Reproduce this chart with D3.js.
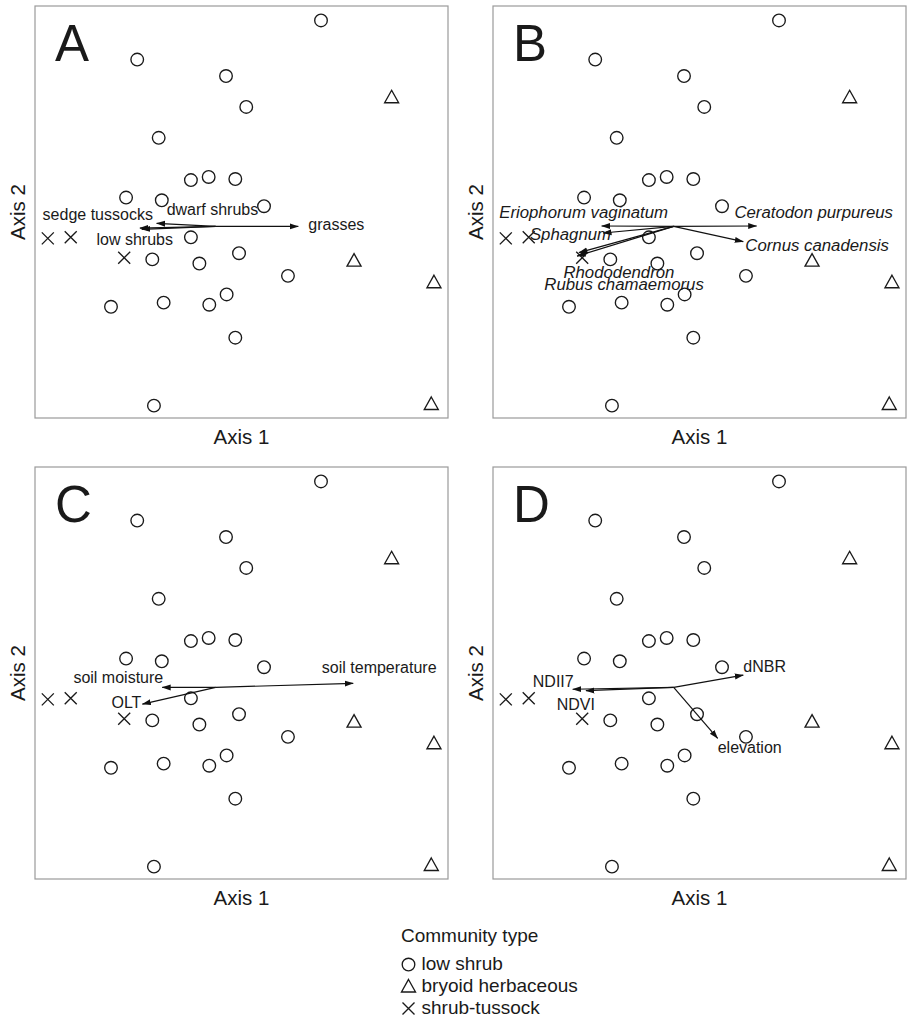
<!DOCTYPE html>
<html>
<head>
<meta charset="utf-8">
<script src="https://cdn.jsdelivr.net/npm/d3@7/dist/d3.min.js"></script>
<style>
  body { margin: 0; background: #fff; }
  svg { display: block; }
  text { font-family: "Liberation Sans", Arial, sans-serif; fill: #1a1a1a; }
  .frame { fill: none; stroke: #9a9a9a; stroke-width: 1.2; }
  .site { fill: none; stroke: #1a1a1a; stroke-width: 1.35; }
  .vec { stroke: #111; stroke-width: 1.2; }
</style>
</head>
<body>
<div id="vizContainer"></div>
<script>
// site scores (same ordination in all four panels)
var siteX = [0.51, -0.38, 0.05, 0.148, -0.276, -0.12, -0.034, 0.095, -0.434, -0.261, 0.234,
             -0.12, -0.307, -0.079, 0.113, 0.35, -0.507, -0.252, -0.031, 0.053, 0.095, -0.299,
             0.852, 0.67, 1.057, 1.044,
             -0.813, -0.702, -0.443];
var siteY = [1.00, 0.81, 0.73, 0.58, 0.43, 0.225, 0.24, 0.23, 0.14, 0.127, 0.098,
             -0.053, -0.16, -0.18, -0.13, -0.24, -0.39, -0.37, -0.38, -0.33, -0.54, -0.87,
             0.627, -0.166, -0.271, -0.862,
             -0.058, -0.053, -0.152];
var siteType = ["low shrub", "low shrub", "low shrub", "low shrub", "low shrub", "low shrub",
                "low shrub", "low shrub", "low shrub", "low shrub", "low shrub", "low shrub",
                "low shrub", "low shrub", "low shrub", "low shrub", "low shrub", "low shrub",
                "low shrub", "low shrub", "low shrub", "low shrub",
                "bryoid herbaceous", "bryoid herbaceous", "bryoid herbaceous", "bryoid herbaceous",
                "shrub-tussock", "shrub-tussock", "shrub-tussock"];

var communityTypes = ["low shrub", "bryoid herbaceous", "shrub-tussock"];
var panelLetters = ["A", "B", "C", "D"];

// fitted vectors per panel
var vecNamesA = ["grasses", "dwarf shrubs", "sedge tussocks", "low shrubs"];
var vecXA = [0.40, -0.286, -0.367, -0.358];
var vecYA = [0.0, 0.015, -0.008, -0.014];

var vecNamesB = ["Eriophorum vaginatum", "Ceratodon purpureus", "Sphagnum",
                 "Cornus canadensis", "Rhododendron", "Rubus chamaemorus"];
var vecXB = [-0.349, 0.402, -0.342, 0.337, -0.459, -0.468];
var vecYB = [0.002, 0.002, -0.032, -0.074, -0.127, -0.144];

var vecNamesC = ["soil temperature", "soil moisture", "OLT"];
var vecXC = [0.666, -0.259, -0.355];
var vecYC = [0.02, 0.0, -0.081];

var vecNamesD = ["dNBR", "NDII7", "NDVI", "elevation"];
var vecXD = [0.337, -0.489, -0.425, 0.213];
var vecYD = [0.06, -0.009, -0.016, -0.247];

// label placement relative to arrow tip (px)
var labelPos = {
  "grasses": [10, 4, "start"],
  "dwarf shrubs": [10, -8, "start"],
  "sedge tussocks": [13, -8, "end"],
  "low shrubs": [-7, 16, "middle"],
  "Eriophorum vaginatum": [-18, -8, "middle"],
  "Ceratodon purpureus": [57, -8, "middle"],
  "Sphagnum": [8, 7, "end"],
  "Cornus canadensis": [2, 9, "start"],
  "Rhododendron": [40, 25, "middle"],
  "Rubus chamaemorus": [47, 34, "middle"],
  "soil temperature": [26, -10, "middle"],
  "soil moisture": [1, -4, "end"],
  "OLT": [-1, 4, "end"],
  "dNBR": [0, -3, "start"],
  "NDII7": [1, -2, "end"],
  "NDVI": [9, 19, "end"],
  "elevation": [0, 15, "start"]
};

var panels = [
  { names: vecNamesA, vx: vecXA, vy: vecYA, italic: false, left: 35, top: 6 },
  { names: vecNamesB, vx: vecXB, vy: vecYB, italic: true, left: 493, top: 6 },
  { names: vecNamesC, vx: vecXC, vy: vecYC, italic: false, left: 35, top: 467 },
  { names: vecNamesD, vx: vecXD, vy: vecYD, italic: false, left: 493, top: 467 }
];

var width = 912, height = 1024;
var boxW = 413, boxH = 412;

var svg = d3.select("#vizContainer").append("svg")
    .attr("width", width)
    .attr("height", height);

svg.append("defs").append("marker")
    .attr("id", "head")
    .attr("markerUnits", "userSpaceOnUse")
    .attr("viewBox", "0 -4 9 8")
    .attr("refX", 8.5).attr("refY", 0)
    .attr("markerWidth", 9).attr("markerHeight", 8)
    .attr("orient", "auto")
  .append("path")
    .attr("d", "M0,-3L9,0L0,3Z")
    .style("fill", "#111");

var sites = siteX.map(function(x, i) {
  return { x: x, y: siteY[i], type: siteType[i] };
});

function drawSymbol(g, type, cx, cy) {
  if (type == "low shrub") {
    g.append("circle").attr("class", "site")
      .attr("cx", cx).attr("cy", cy).attr("r", 6.3);
  } else if (type == "bryoid herbaceous") {
    g.append("path").attr("class", "site")
      .attr("d", "M " + cx + " " + (cy - 7) +
          " L " + (cx + 7) + " " + (cy + 5.5) +
          " L " + (cx - 7) + " " + (cy + 5.5) + " Z");
  } else {
    g.append("path").attr("class", "site")
      .attr("d", "M " + (cx - 6) + " " + (cy - 6) + " L " + (cx + 6) + " " + (cy + 6) +
          " M " + (cx + 6) + " " + (cy - 6) + " L " + (cx - 6) + " " + (cy + 6));
  }
}

panels.forEach(function(p, pi) {
  var x = d3.scaleLinear().domain([-0.875, 1.125]).range([p.left, p.left + boxW]);
  var y = d3.scaleLinear().domain([-0.93, 1.07]).range([p.top + boxH, p.top]);
  var g = svg.append("g");

  g.append("rect").attr("class", "frame")
    .attr("x", p.left).attr("y", p.top)
    .attr("width", boxW).attr("height", boxH);

  g.append("text")
    .attr("x", p.left + 20).attr("y", p.top + 55)
    .style("font-size", "51px")
    .text(panelLetters[pi]);

  g.append("text")
    .attr("x", (x.range()[0] + x.range()[1]) / 2).attr("y", p.top + 438)
    .attr("text-anchor", "middle")
    .style("font-size", "20.5px")
    .text("Axis 1");

  var ym = (y.range()[0] + y.range()[1]) / 2;
  g.append("text")
    .attr("transform", "translate(" + (p.left - 10) + "," + ym + ") rotate(-90)")
    .attr("text-anchor", "middle")
    .style("font-size", "20.5px")
    .text("Axis 2");

  sites.forEach(function(d) {
    drawSymbol(g, d.type, x(d.x), y(d.y));
  });

  var vecs = p.names.map(function(n, i) {
    return { name: n, x: p.vx[i], y: p.vy[i] };
  });

  g.selectAll(".vec").data(vecs).enter()
    .append("line")
    .attr("class", "vec")
    .attr("x1", x(0)).attr("y1", y(0))
    .attr("x2", function(d) { return x(d.x); })
    .attr("y2", function(d) { return y(d.y); })
    .attr("marker-end", "url(#head)");

  g.selectAll(".vlab").data(vecs).enter()
    .append("text")
    .attr("class", "vlab")
    .attr("x", function(d) { return x(d.x) + labelPos[d.name][0]; })
    .attr("y", function(d) { return y(d.y) + labelPos[d.name][1]; })
    .attr("text-anchor", function(d) { return labelPos[d.name][2]; })
    .style("font-size", p.italic ? "16.8px" : "16px")
    .style("font-style", p.italic ? "italic" : "normal")
    .text(function(d) { return d.name; });
});

// legend
var legend = svg.append("g");
legend.append("text")
  .attr("x", 401).attr("y", 942)
  .style("font-size", "19px")
  .text("Community type");

communityTypes.forEach(function(t, i) {
  var yy = 964.5 + i * 22;
  drawSymbol(legend, t, 408.5, yy);
  legend.append("text")
    .attr("x", 421.5).attr("y", yy + 5.8)
    .style("font-size", "19px")
    .text(t);
});
</script>
</body>
</html>
